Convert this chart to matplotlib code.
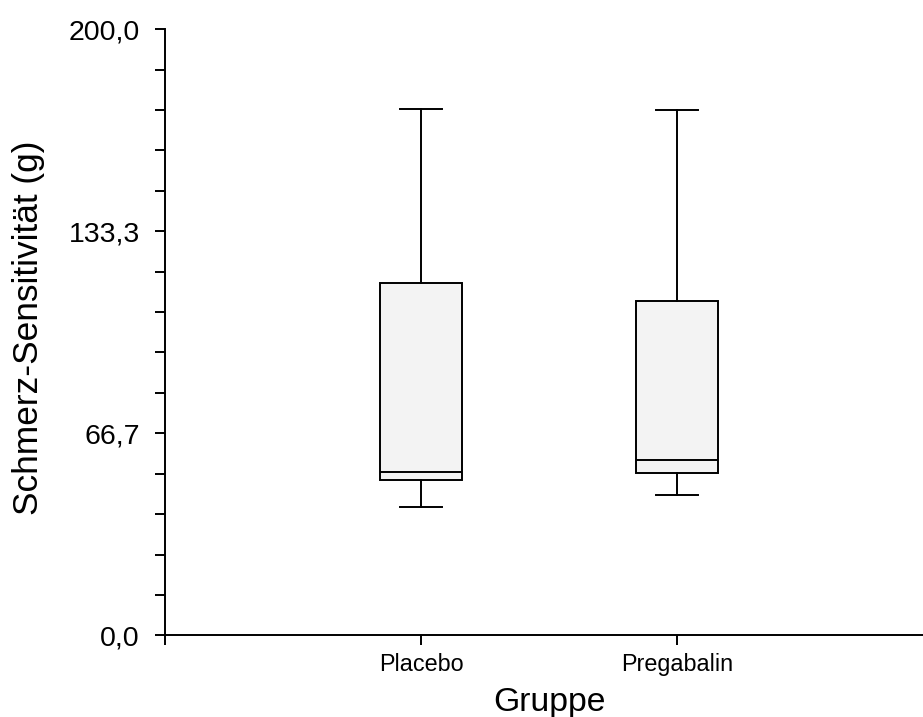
import numpy as np
import matplotlib
matplotlib.use("Agg")
import matplotlib.pyplot as plt

plt.rcParams['font.family'] = ['Liberation Sans', 'DejaVu Sans']

############################################################ DATA
gruppen = ['Placebo', 'Pregabalin']
whisker_low = [42.4, 46.3]
q1 = [51.2, 53.6]
median = [53.8, 57.9]
q3 = [116.4, 110.2]
whisker_high = [173.8, 173.5]

ytick_vals = [0.0, 200.0/3, 400.0/3, 200.0]
ytick_labels = ['0,0', '66,7', '133,3', '200,0']

############################################################ PLOT
fig = plt.figure(figsize=(9.23, 7.17), dpi=100)
ax = fig.add_axes([165/923, 1 - 635.3/717, 758/923, (635.3 - 29.3)/717])

stats = []
for i in range(len(gruppen)):
    stats.append({'label': gruppen[i], 'whislo': whisker_low[i], 'q1': q1[i],
                  'med': median[i], 'q3': q3[i], 'whishi': whisker_high[i],
                  'fliers': []})

lw = 1.4
ax.bxp(stats, positions=[1, 2], widths=0.32, patch_artist=True, showfliers=False,
       boxprops=dict(facecolor='#f3f3f3', edgecolor='black', linewidth=lw),
       medianprops=dict(color='black', linewidth=lw),
       whiskerprops=dict(color='black', linewidth=lw),
       capprops=dict(color='black', linewidth=lw),
       capwidths=0.164)

ax.set_xlim(0, 2.96)
ax.set_ylim(0, 200)
ax.spines['top'].set_visible(False)
ax.spines['right'].set_visible(False)
ax.spines['left'].set_linewidth(lw)
ax.spines['bottom'].set_linewidth(lw)

ax.set_xticks([0, 1, 2])
ax.set_xticklabels([''] + gruppen, fontsize=16.8)
ax.set_yticks(ytick_vals)
ax.set_yticklabels(ytick_labels, fontsize=20.5)
ax.set_yticks(np.arange(0, 201, 200/15), minor=True)
ax.tick_params(axis='y', which='both', length=7.2, width=lw, pad=11)
ax.tick_params(axis='x', which='major', length=7, width=lw, pad=6)

ax.set_xlabel('Gruppe', fontsize=24.3)
ax.set_ylabel('Schmerz-Sensitivität (g)', fontsize=25.4)
ax.xaxis.set_label_coords(0.507, -0.085)
ax.yaxis.set_label_coords(-0.158, 0.508)

fig.savefig('out.png', dpi=100)
